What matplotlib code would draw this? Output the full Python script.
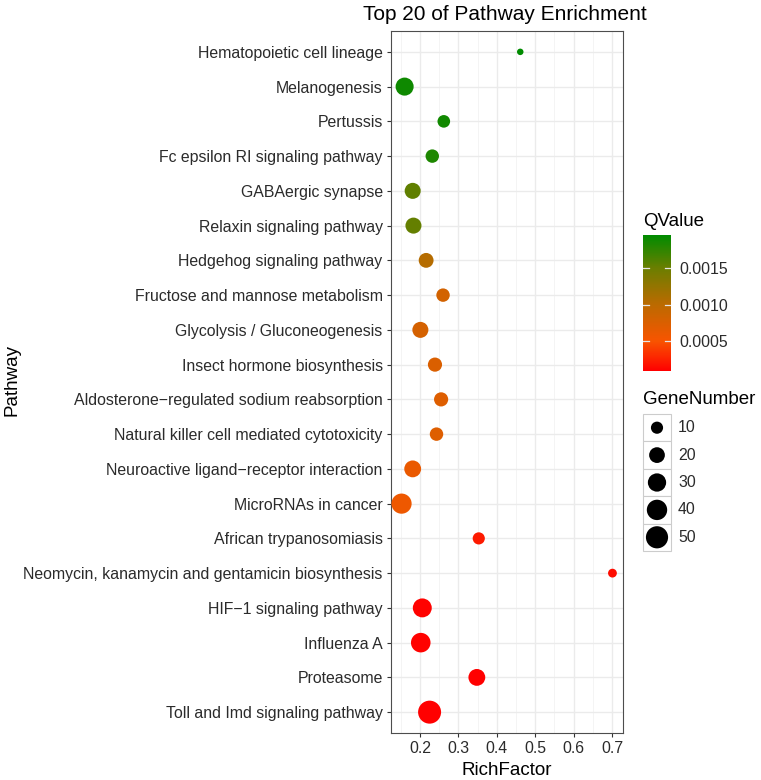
import numpy as np
import matplotlib
matplotlib.use("Agg")
import matplotlib.pyplot as plt
from matplotlib.colors import LinearSegmentedColormap, Normalize
from matplotlib.colorbar import ColorbarBase
from matplotlib.patches import Rectangle

plt.rcParams['font.family'] = ['Liberation Sans', 'DejaVu Sans']

pathways = [
    "Hematopoietic cell lineage", "Melanogenesis", "Pertussis",
    "Fc epsilon RI signaling pathway", "GABAergic synapse",
    "Relaxin signaling pathway", "Hedgehog signaling pathway",
    "Fructose and mannose metabolism", "Glycolysis / Gluconeogenesis",
    "Insect hormone biosynthesis", "Aldosterone\u2212regulated sodium reabsorption",
    "Natural killer cell mediated cytotoxicity",
    "Neuroactive ligand\u2212receptor interaction", "MicroRNAs in cancer",
    "African trypanosomiasis",
    "Neomycin, kanamycin and gentamicin biosynthesis",
    "HIF\u22121 signaling pathway", "Influenza A", "Proteasome",
    "Toll and Imd signaling pathway",
]
rich_factor = [0.461, 0.160, 0.262, 0.232, 0.181, 0.183, 0.216, 0.260, 0.201,
               0.239, 0.255, 0.243, 0.181, 0.152, 0.353, 0.701, 0.206, 0.202,
               0.348, 0.225]
gene_number = [4, 29, 11, 13, 21, 21, 17, 13, 21, 15, 15, 13, 24, 39, 10, 5,
               33, 36, 24, 55]
q_value = [0.00196, 0.00190, 0.00188, 0.00183, 0.00155, 0.00153, 0.00104,
           0.00082, 0.00080, 0.00075, 0.00072, 0.00072, 0.00062, 0.00058,
           0.00022, 0.00015, 0.00010, 0.00010, 0.00009, 0.00009]
size_breaks = [10, 20, 30, 40, 50]
q_ticks = [0.0005, 0.0010, 0.0015]
x_ticks = [0.2, 0.3, 0.4, 0.5, 0.6, 0.7]

qmin, qmax = min(q_value), max(q_value)


def _frac(v):
    return (v - qmin) / (qmax - qmin)


# gradient red -> green4, passing through orange and olive as in the reference
cmap = LinearSegmentedColormap.from_list("qv", [
    (0.0, "#FF0000"),
    (_frac(0.0005), "#F85400"),
    (_frac(0.0010), "#BC6A00"),
    (_frac(0.0015), "#6C7E00"),
    (1.0, "#008B00"),
])
norm = Normalize(vmin=qmin, vmax=qmax)

# ---- size mapping ----
nmin, nmax = min(gene_number), max(gene_number)
DPI = 100


def diam_px(n):
    n = np.asarray(n, float)
    return 6.5 + 16.5 * np.sqrt(np.clip((n - nmin) / (nmax - nmin), 0, 1))


def s_pts(n):
    return (diam_px(n) * 72 / DPI) ** 2


W, H = 761, 780
fig = plt.figure(figsize=(W / DPI, H / DPI), dpi=DPI)
ax = fig.add_axes([391 / W, 1 - 733 / H, (623 - 391) / W, (733 - 31) / H])

npw = len(pathways)
ypos = np.arange(npw)
ax.scatter(rich_factor, ypos, s=s_pts(gene_number), c=q_value, cmap=cmap,
           norm=norm, edgecolors='none', zorder=3)

xr = max(rich_factor) - min(rich_factor)
ax.set_xlim(min(rich_factor) - 0.05 * xr, max(rich_factor) + 0.05 * xr)
ax.set_ylim(npw - 1 + 0.6, -0.6)
ax.set_yticks(ypos)
ax.set_yticklabels(pathways)
ax.set_xticks(x_ticks)
ax.set_xticklabels([f"{v:.1f}" for v in x_ticks])
minor = [(a + b) / 2 for a, b in zip(x_ticks[:-1], x_ticks[1:])]
minor = [x_ticks[0] - 0.05] + minor
ax.set_xticks(minor, minor=True)
ax.grid(True, which='major', color='#EBEBEB', linewidth=1.0, zorder=0)
ax.grid(True, which='minor', axis='x', color='#F2F2F2', linewidth=0.6, zorder=0)
ax.set_axisbelow(True)
for sp in ax.spines.values():
    sp.set_color('#4D4D4D')
    sp.set_linewidth(0.8)
ax.tick_params(axis='both', which='major', length=3, width=0.8, color='#333333',
               labelsize=11.4, labelcolor='#2B2B2B', pad=3)
ax.tick_params(axis='x', which='minor', length=0)
ax.set_xlabel("RichFactor", fontsize=13.5, color='black', labelpad=4)
fig.text(12 / W, 1 - 380 / H, "Pathway", rotation=90, fontsize=13.5,
         ha='center', va='center')
fig.text(505 / W, 1 - 14 / H, "Top 20 of Pathway Enrichment", fontsize=15,
         ha='center', va='center')

# ---- colour bar ----
cax = fig.add_axes([643 / W, 1 - 371 / H, 28 / W, 136 / H])
cb = ColorbarBase(cax, cmap=cmap, norm=norm, orientation='vertical')
cb.outline.set_visible(False)
cb.set_ticks(q_ticks)
cb.set_ticklabels([f"{v:.4f}" for v in q_ticks])
cax.tick_params(length=0, labelsize=11.4, labelcolor='#2B2B2B', pad=6)
for v in q_ticks:
    cax.plot([0, 0.2], [v, v], color='#E6E6E6', lw=0.9, transform=cax.get_yaxis_transform())
    cax.plot([0.8, 1.0], [v, v], color='#E6E6E6', lw=0.9, transform=cax.get_yaxis_transform())
fig.text(643 / W, 1 - 222 / H, "QValue", fontsize=13.5, ha='left', va='center')

# ---- size legend ----
lax = fig.add_axes([643 / W, 1 - 551 / H, 28 / W, 137 / H])
lax.set_xlim(0, 1)
lax.set_ylim(len(size_breaks), 0)
lax.axis('off')
for i, b in enumerate(size_breaks):
    lax.add_patch(Rectangle((0, i), 1, 1, facecolor='white', edgecolor='#CCCCCC',
                            lw=0.8, clip_on=False))
    lax.scatter([0.5], [i + 0.5], s=s_pts(b), color='black', edgecolors='none',
                clip_on=False, zorder=3)
    lax.text(1.25, i + 0.5, str(b), fontsize=11.4, color='#2B2B2B',
             ha='left', va='center')
fig.text(643 / W, 1 - 400 / H, "GeneNumber", fontsize=13.5, ha='left', va='center')

fig.savefig("out.png", dpi=DPI)
